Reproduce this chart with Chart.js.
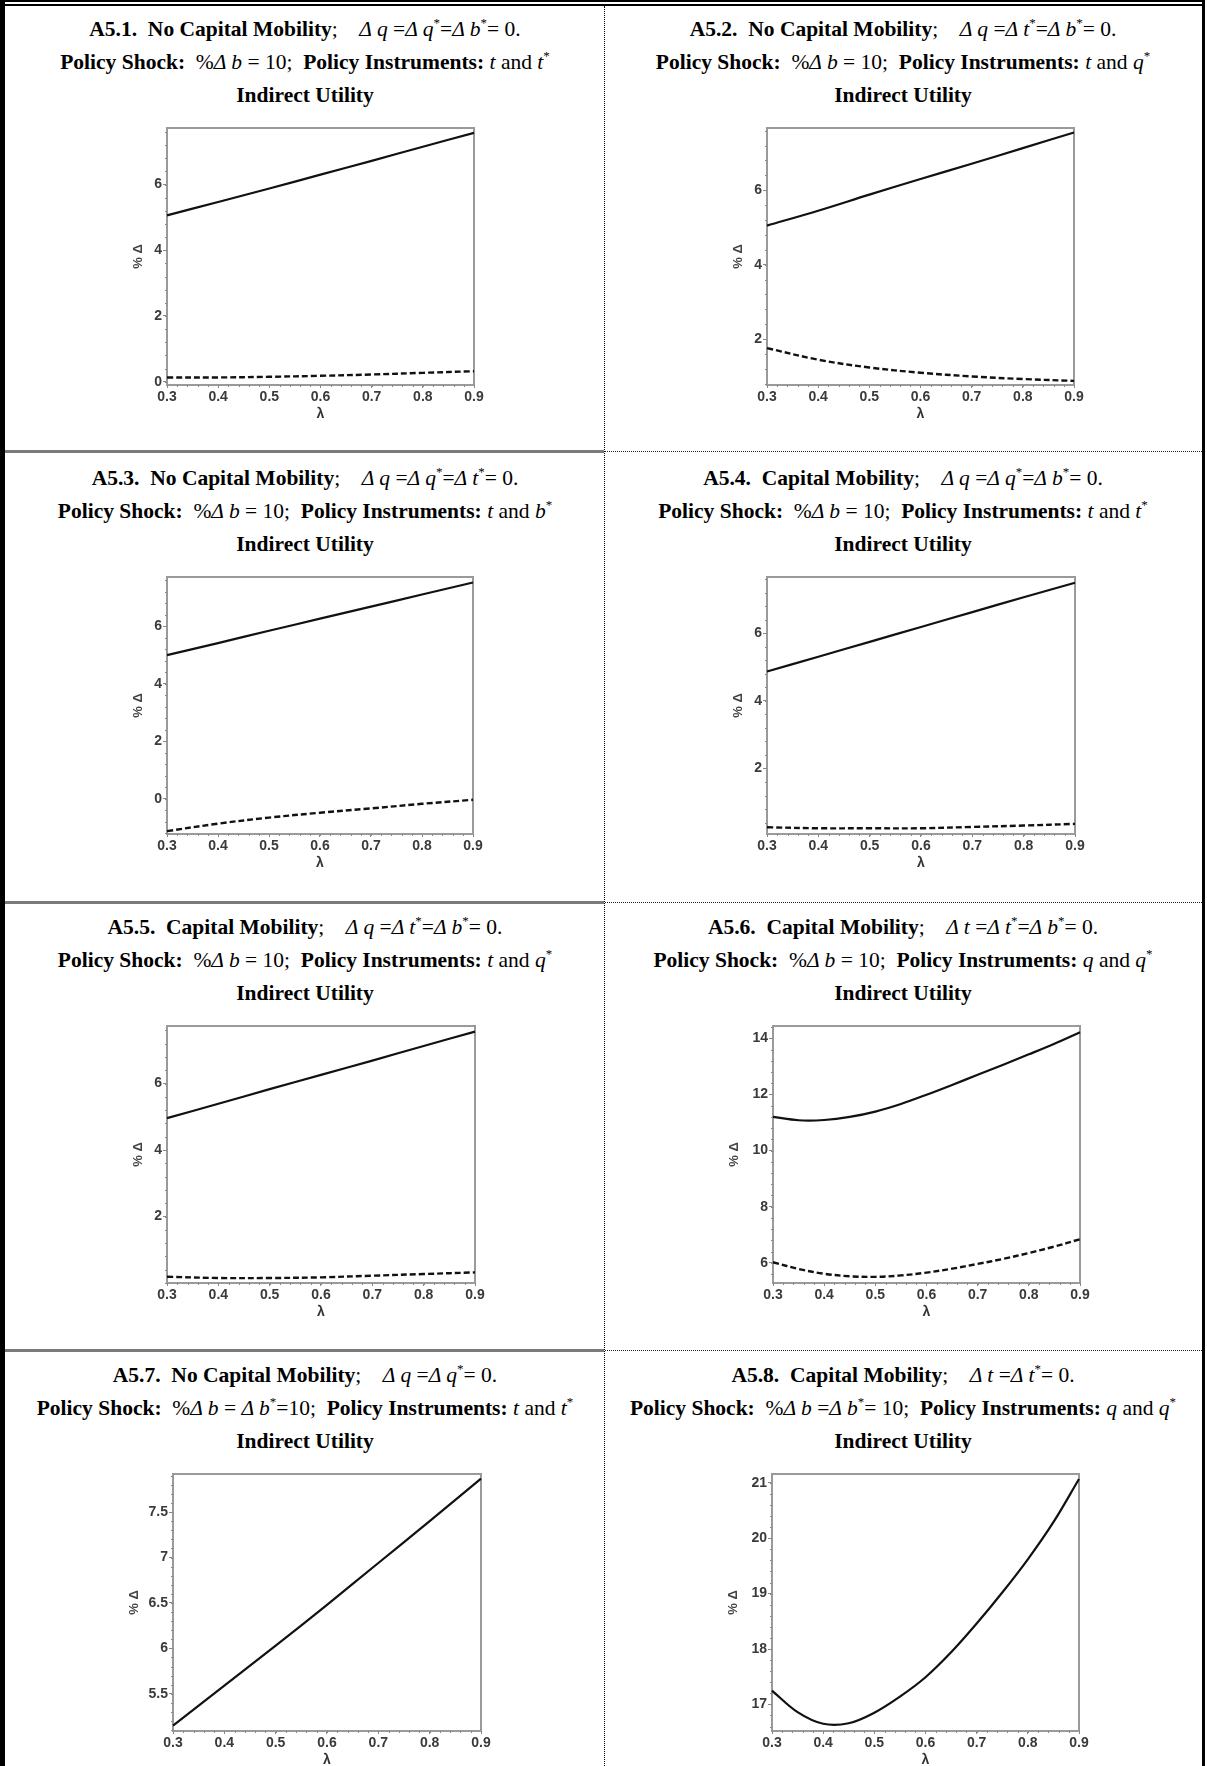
<!DOCTYPE html>
<html>
<head>
<meta charset="utf-8">
<script src="https://cdn.jsdelivr.net/npm/chart.js@4.4.1/dist/chart.umd.min.js"></script>
<style>
body { margin: 0; background: #fff; }
#page { position: relative; width: 1207px; height: 1766px; overflow: hidden; background: #fff; }
.ttl { position: absolute; text-align: center; font-family: "Liberation Serif", "Times New Roman", serif;
       font-size: 21.5px; line-height: 33px; color: #000; white-space: nowrap; }
.ttl i { font-style: italic; }
.ttl sup { font-size: 13px; line-height: 0; vertical-align: 9px; }
.cv { position: absolute; }
.ln { position: absolute; }
</style>
</head>
<body>
<div id="page"></div>
<script>
// lambda grid
const lambda = [0.3, 0.4, 0.5, 0.6, 0.7, 0.8, 0.9];
const lambdaFine = [0.3, 0.35, 0.4, 0.45, 0.5, 0.55, 0.6, 0.65, 0.7, 0.75, 0.8, 0.85, 0.9];
const xTickLabels = [0.3, 0.4, 0.5, 0.6, 0.7, 0.8, 0.9];

// A5.1
const a51Solid  = [5.06, 5.47, 5.88, 6.30, 6.72, 7.15, 7.57];
const a51Dashed = [0.13, 0.13, 0.15, 0.18, 0.22, 0.27, 0.32];
const a51Ticks  = [0, 2, 4, 6];
// A5.2
const a52Solid  = [5.05, 5.45, 5.88, 6.30, 6.71, 7.13, 7.55];
const a52Dashed = [1.76, 1.45, 1.24, 1.10, 1.00, 0.93, 0.88];
const a52Ticks  = [2, 4, 6];
// A5.3
const a53Solid  = [5.00, 5.42, 5.85, 6.27, 6.69, 7.11, 7.53];
const a53Dashed = [-1.12, -0.86, -0.65, -0.48, -0.33, -0.17, -0.03];
const a53Ticks  = [0, 2, 4, 6];
// A5.4
const a54Solid  = [4.87, 5.31, 5.75, 6.19, 6.63, 7.07, 7.50];
const a54Dashed = [0.26, 0.23, 0.23, 0.23, 0.27, 0.31, 0.36];
const a54Ticks  = [2, 4, 6];
// A5.5
const a55Solid  = [4.96, 5.39, 5.83, 6.26, 6.69, 7.13, 7.56];
const a55Dashed = [0.19, 0.15, 0.15, 0.17, 0.22, 0.27, 0.32];
const a55Ticks  = [2, 4, 6];
// A5.6 (on lambdaFine)
const a56Solid  = [11.20, 11.08, 11.09, 11.20, 11.39, 11.66, 11.99, 12.34, 12.70, 13.06, 13.43, 13.81, 14.22];
const a56Dashed = [6.02, 5.78, 5.61, 5.52, 5.50, 5.55, 5.65, 5.79, 5.96, 6.14, 6.35, 6.58, 6.84];
const a56Ticks  = [6, 8, 10, 12, 14];
// A5.7
const a57Solid  = [5.15, 5.59, 6.03, 6.48, 6.94, 7.40, 7.87];
const a57Ticks  = [5.5, 6, 6.5, 7, 7.5];
// A5.8 (on lambdaFine)
const a58Solid  = [17.25, 16.86, 16.65, 16.66, 16.85, 17.14, 17.49, 17.94, 18.46, 19.02, 19.62, 20.29, 21.07];
const a58Ticks  = [17, 18, 19, 20, 21];

const S = '<sup>*</sup>';

const panels = [
  { l1: '<b>A5.1.&nbsp; No Capital Mobility</b>;&nbsp;&nbsp;&nbsp; <i>Δ q</i> =<i>Δ q</i>' + S + '=<i>Δ b</i>' + S + '= 0.',
    l2: '<b>Policy Shock:</b>&nbsp; %<i>Δ b</i> = 10;&nbsp; <b>Policy Instruments:</b> <i>t</i> and <i>t</i>' + S,
    cell: [6, 604], plot: [167, 128, 474, 385], yW: 36, y: [-0.1, 7.72], minor: 0.4,
    ticks: a51Ticks, x: lambda, solid: a51Solid, dashed: a51Dashed },
  { l1: '<b>A5.2.&nbsp; No Capital Mobility</b>;&nbsp;&nbsp;&nbsp; <i>Δ q</i> =<i>Δ t</i>' + S + '=<i>Δ b</i>' + S + '= 0.',
    l2: '<b>Policy Shock:</b>&nbsp; %<i>Δ b</i> = 10;&nbsp; <b>Policy Instruments:</b> <i>t</i> and <i>q</i>' + S,
    cell: [604, 1202], plot: [767, 128, 1074, 385], yW: 36, y: [0.77, 7.67], minor: 0.4,
    ticks: a52Ticks, x: lambda, solid: a52Solid, dashed: a52Dashed },
  { l1: '<b>A5.3.&nbsp; No Capital Mobility</b>;&nbsp;&nbsp;&nbsp; <i>Δ q</i> =<i>Δ q</i>' + S + '=<i>Δ t</i>' + S + '= 0.',
    l2: '<b>Policy Shock:</b>&nbsp; %<i>Δ b</i> = 10;&nbsp; <b>Policy Instruments:</b> <i>t</i> and <i>b</i>' + S,
    cell: [6, 604], plot: [167, 577, 473, 834], yW: 36, y: [-1.22, 7.72], minor: 0.4,
    ticks: a53Ticks, x: lambda, solid: a53Solid, dashed: a53Dashed },
  { l1: '<b>A5.4.&nbsp; Capital Mobility</b>;&nbsp;&nbsp;&nbsp; <i>Δ q</i> =<i>Δ q</i>' + S + '=<i>Δ b</i>' + S + '= 0.',
    l2: '<b>Policy Shock:</b>&nbsp; %<i>Δ b</i> = 10;&nbsp; <b>Policy Instruments:</b> <i>t</i> and <i>t</i>' + S,
    cell: [604, 1202], plot: [767, 577, 1075, 834], yW: 36, y: [0.06, 7.67], minor: 0.4,
    ticks: a54Ticks, x: lambda, solid: a54Solid, dashed: a54Dashed },
  { l1: '<b>A5.5.&nbsp; Capital Mobility</b>;&nbsp;&nbsp;&nbsp; <i>Δ q</i> =<i>Δ t</i>' + S + '=<i>Δ b</i>' + S + '= 0.',
    l2: '<b>Policy Shock:</b>&nbsp; %<i>Δ b</i> = 10;&nbsp; <b>Policy Instruments:</b> <i>t</i> and <i>q</i>' + S,
    cell: [6, 604], plot: [167, 1026, 475, 1283], yW: 36, y: [0.0, 7.73], minor: 0.4,
    ticks: a55Ticks, x: lambda, solid: a55Solid, dashed: a55Dashed },
  { l1: '<b>A5.6.&nbsp; Capital Mobility</b>;&nbsp;&nbsp;&nbsp; <i>Δ t</i> =<i>Δ t</i>' + S + '=<i>Δ b</i>' + S + '= 0.',
    l2: '<b>Policy Shock:</b>&nbsp; %<i>Δ b</i> = 10;&nbsp; <b>Policy Instruments:</b> <i>q</i> and <i>q</i>' + S,
    cell: [604, 1202], plot: [773, 1026, 1080, 1283], yW: 46, y: [5.28, 14.44], minor: 0.4,
    ticks: a56Ticks, x: lambdaFine, solid: a56Solid, dashed: a56Dashed },
  { l1: '<b>A5.7.&nbsp; No Capital Mobility</b>;&nbsp;&nbsp;&nbsp; <i>Δ q</i> =<i>Δ q</i>' + S + '= 0.',
    l2: '<b>Policy Shock:</b>&nbsp; %<i>Δ b</i> = <i>Δ b</i>' + S + '=10;&nbsp; <b>Policy Instruments:</b> <i>t</i> and <i>t</i>' + S,
    cell: [6, 604], plot: [173, 1474, 481, 1731], yW: 46, y: [5.09, 7.92], minor: 0.1,
    ticks: a57Ticks, x: lambda, solid: a57Solid, dashed: null },
  { l1: '<b>A5.8.&nbsp; Capital Mobility</b>;&nbsp;&nbsp;&nbsp; <i>Δ t</i> =<i>Δ t</i>' + S + '= 0.',
    l2: '<b>Policy Shock:</b>&nbsp; %<i>Δ b</i> =<i>Δ b</i>' + S + '= 10;&nbsp; <b>Policy Instruments:</b> <i>q</i> and <i>q</i>' + S,
    cell: [604, 1202], plot: [772, 1474, 1079, 1731], yW: 46, y: [16.52, 21.16], minor: 0.2,
    ticks: a58Ticks, x: lambdaFine, solid: a58Solid, dashed: null }
];

const page = document.getElementById('page');

function addLine(css) {
  const d = document.createElement('div');
  d.className = 'ln';
  Object.assign(d.style, css);
  page.appendChild(d);
}

// frame and cell separators
addLine({ left: '0px', top: '0px', width: '1205px', height: '2px', background: '#000' });
addLine({ left: '0px', top: '4px', width: '1205px', height: '2px', background: '#000' });
addLine({ left: '0px', top: '0px', width: '5px', height: '1766px', background: '#000' });
addLine({ left: '1202px', top: '0px', width: '3px', height: '1766px', background: '#000' });
addLine({ left: '604px', top: '6px', width: '0px', height: '1760px', borderLeft: '1px dotted #000' });
[451, 902, 1350].forEach(function (y) {
  addLine({ left: '5px', top: (y - 1) + 'px', width: '599px', height: '3px', background: '#7a7a7a' });
  addLine({ left: '605px', top: y + 'px', width: '597px', height: '0px', borderTop: '1px dotted #222' });
});

const framePlugin = {
  id: 'frame',
  beforeDatasetsDraw(chart) {
    const a = chart.chartArea, c = chart.ctx;
    c.save();
    c.strokeStyle = '#9a9a9a';
    c.lineWidth = 2;
    c.strokeRect(a.left, a.top, a.right - a.left, a.bottom - a.top);
    c.restore();
  },
  afterDraw(chart) {
    // minor tick marks
    const a = chart.chartArea, c = chart.ctx;
    const xs = chart.scales.x, ys = chart.scales.y;
    const m = chart.options.plugins.frame;
    c.save();
    c.strokeStyle = '#888';
    c.lineWidth = 1;
    c.beginPath();
    for (let k = Math.ceil(xs.min / 0.02 - 1e-6); k * 0.02 <= xs.max + 1e-9; k++) {
      const px = Math.round(xs.getPixelForValue(k * 0.02)) + 0.5;
      c.moveTo(px, a.bottom); c.lineTo(px, a.bottom + 2);
    }
    for (let k = Math.ceil(ys.min / m.minor - 1e-6); k * m.minor <= ys.max + 1e-9; k++) {
      const py = Math.round(ys.getPixelForValue(k * m.minor)) + 0.5;
      c.moveTo(a.left - 2, py); c.lineTo(a.left, py);
    }
    c.stroke();
    c.restore();
  }
};

const padTop = 10, padRight = 14, xH = 38;
const tickFont = { family: 'Arial', weight: 'bold', size: 14 };

panels.forEach(function (p) {
  const cx = p.cell[0], cw = p.cell[1] - p.cell[0];
  const t = document.createElement('div');
  t.className = 'ttl';
  t.style.left = cx + 'px';
  t.style.width = cw + 'px';
  t.style.top = (p.plot[1] - 99 - 16.5) + 'px';
  t.innerHTML = '<div>' + p.l1 + '</div><div>' + p.l2 + '</div><div><b>Indirect Utility</b></div>';
  page.appendChild(t);

  const W = p.yW + (p.plot[2] - p.plot[0]) + padRight;
  const H = padTop + (p.plot[3] - p.plot[1]) + xH;
  const cv = document.createElement('canvas');
  cv.className = 'cv';
  cv.style.left = (p.plot[0] - p.yW) + 'px';
  cv.style.top = (p.plot[1] - padTop) + 'px';
  cv.style.width = W + 'px'; cv.style.height = H + 'px';
  cv.width = W; cv.height = H;
  page.appendChild(cv);

  const datasets = [{
    data: p.x.map(function (v, j) { return { x: v, y: p.solid[j] }; }),
    borderColor: '#111', borderWidth: 2.2, pointRadius: 0, fill: false,
    tension: 0.35, clip: 3
  }];
  if (p.dashed) {
    datasets.push({
      data: p.x.map(function (v, j) { return { x: v, y: p.dashed[j] }; }),
      borderColor: '#111', borderWidth: 2.4, borderDash: [6, 3], pointRadius: 0, fill: false,
      tension: 0.35, clip: 3
    });
  }

  new Chart(cv, {
    type: 'line',
    data: { datasets: datasets },
    plugins: [framePlugin],
    options: {
      responsive: false,
      animation: false,
      layout: { padding: { top: padTop, right: padRight, left: 0, bottom: 0 } },
      plugins: { legend: { display: false }, tooltip: { enabled: false }, frame: { minor: p.minor } },
      scales: {
        x: {
          type: 'linear', min: 0.3, max: 0.9,
          afterBuildTicks: function (s) { s.ticks = xTickLabels.map(function (v) { return { value: v }; }); },
          afterFit: function (s) { s.height = xH; },
          ticks: { font: tickFont, color: '#3a3a3a', padding: 1, maxRotation: 0, autoSkip: false,
                   callback: function (v) { return v.toFixed(1); } },
          grid: { drawOnChartArea: false, tickLength: 3, color: '#888' },
          border: { display: false },
          title: { display: true, text: 'λ', color: '#333',
                   font: { family: 'Arial', weight: 'bold', size: 14 }, padding: 0 }
        },
        y: {
          type: 'linear', min: p.y[0], max: p.y[1],
          afterBuildTicks: function (s) { s.ticks = p.ticks.map(function (v) { return { value: v }; }); },
          afterFit: function (s) { s.width = p.yW; },
          ticks: { font: tickFont, color: '#3a3a3a', padding: 1, autoSkip: false,
                   callback: function (v) { return String(v); } },
          grid: { drawOnChartArea: false, tickLength: 4, color: '#888' },
          border: { display: false },
          title: { display: true, text: '% Δ', color: '#444',
                   font: { family: 'Arial', weight: 'bold', size: 13 }, padding: 0 }
        }
      }
    }
  });
});
</script>
</body>
</html>
